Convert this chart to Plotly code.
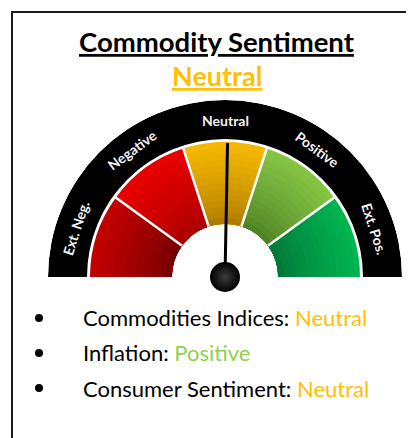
import math
import plotly.graph_objects as go

# ---------------- data ----------------
title_text = "Commodity Sentiment"
overall_status = "Neutral"
zone_labels = ["Ext. Neg.", "Negative", "Neutral", "Positive", "Ext. Pos."]
zone_outer_colors = ["#c20000", "#e80000", "#f4b800", "#84c443", "#00b450"]
zone_inner_colors = ["#760000", "#aa0000", "#b07c00", "#4f8326", "#00783a"]
sentiment_score = 2.53          # position of needle on the 0..5 zone scale
indicator_names = ["Commodities Indices", "Inflation", "Consumer Sentiment"]
indicator_status = ["Neutral", "Positive", "Neutral"]
status_colors = {"Ext. Neg.": "#C00000", "Negative": "#FF0000", "Neutral": "#FFC000",
                 "Positive": "#92D050", "Ext. Pos.": "#00B050"}

# ---------------- geometry / style ----------------
W, H = 414, 438          # browser window
OFF = 8                  # default page (body) margin
FW, FH = W - OFF, H - OFF  # figure size so it ends at the window edge
CX, CY = 225, 277
R_OUT, R_RING_IN, R_ZONE, R_HOLE, R_LABEL = 177, 138, 135, 53, 157
KNOB_R = 15
FONT = "Lato"

n = len(zone_labels)
span = 180.0 / n
thetas = [180 - span * (i + 0.5) for i in range(n)]


def mix(c1, c2, t):
    a = [int(c1[i:i + 2], 16) for i in (1, 3, 5)]
    b = [int(c2[i:i + 2], 16) for i in (1, 3, 5)]
    return "rgb(%d,%d,%d)" % tuple(round(a[k] + (b[k] - a[k]) * t) for k in range(3))


fig = go.Figure()

# black outer ring
fig.add_trace(go.Barpolar(theta=[90], r=[R_OUT - R_RING_IN], base=[R_RING_IN], width=[180],
                          marker=dict(color="#000000", line=dict(width=0)),
                          hoverinfo="skip", showlegend=False, subplot="polar"))

# coloured zones, shaded from dark (inner) to bright (outer)
bands = 14
for k in range(bands):
    top = R_ZONE - k * (R_ZONE - R_HOLE) / bands
    t = 1 - k / (bands - 1)
    cols = [mix(zone_inner_colors[i], zone_outer_colors[i], t ** 0.8) for i in range(n)]
    fig.add_trace(go.Barpolar(theta=thetas, r=[top - R_HOLE] * n, base=[R_HOLE] * n,
                              width=[span] * n,
                              marker=dict(color=cols, line=dict(width=0)),
                              hoverinfo="skip", showlegend=False, subplot="polar"))

# white separators between zones
for i in range(1, n):
    fig.add_trace(go.Scatterpolar(theta=[180 - span * i] * 2, r=[R_HOLE, R_ZONE + 1],
                                  mode="lines", line=dict(color="white", width=2.5),
                                  hoverinfo="skip", showlegend=False, subplot="polar"))

# knob
fig.add_trace(go.Scatter(x=[CX], y=[CY], mode="markers",
                         marker=dict(size=2 * KNOB_R, color="#000000",
                                     gradient=dict(type="radial", color="#3c3c3c"),
                                     line=dict(width=0)),
                         hoverinfo="skip", showlegend=False))

# bullets
bullet_y = [318, 353, 388]
fig.add_trace(go.Scatter(x=[39] * len(indicator_names), y=bullet_y[:len(indicator_names)],
                         mode="markers", marker=dict(size=8, color="#000000"),
                         hoverinfo="skip", showlegend=False))

# needle
ang = math.radians(180 - span * sentiment_score)
fig.add_shape(type="line", xref="x", yref="y", layer="above",
              x0=CX + (KNOB_R - 2) * math.cos(ang), y0=CY - (KNOB_R - 2) * math.sin(ang),
              x1=CX + (R_ZONE - 1) * math.cos(ang), y1=CY - (R_ZONE - 1) * math.sin(ang),
              line=dict(color="#000000", width=3))

# frame
fig.add_shape(type="line", xref="x", yref="y", x0=12, x1=W + 10, y0=12, y1=12,
              line=dict(color="#1a1a1a", width=2))
fig.add_shape(type="line", xref="x", yref="y", x0=12, x1=12, y0=11, y1=H + 10,
              line=dict(color="#1a1a1a", width=2))

# zone labels in the ring
for lab, th in zip(zone_labels, thetas):
    a = math.radians(th)
    fig.add_annotation(x=CX + R_LABEL * math.cos(a), y=CY - R_LABEL * math.sin(a),
                       xref="x", yref="y", text="<b>%s</b>" % lab, showarrow=False,
                       textangle=90 - th, xanchor="center", yanchor="middle",
                       font=dict(family=FONT, size=14, color="#f2f2f2"))

# titles
fig.add_annotation(x=216.5, y=41, xref="x", yref="y", text="<b>%s</b>" % title_text,
                   showarrow=False, xanchor="center", yanchor="middle",
                   font=dict(family=FONT, size=27.5, color="#000000", lineposition="under"))
fig.add_annotation(x=216.5, y=75, xref="x", yref="y", text="<b>%s</b>" % overall_status,
                   showarrow=False, xanchor="center", yanchor="middle",
                   font=dict(family=FONT, size=27, color=status_colors[overall_status],
                             lineposition="under"))

# indicator list
for name, st, yy in zip(indicator_names, indicator_status, [317.5, 352.5, 388.5]):
    fig.add_annotation(x=81, y=yy, xref="x", yref="y",
                       text="%s: <span style='color:%s'>%s</span>" % (name, status_colors[st], st),
                       showarrow=False, xanchor="left", yanchor="middle",
                       font=dict(family=FONT, size=22, color="#000000"))

fig.update_layout(
    width=FW, height=FH, margin=dict(l=0, r=0, t=0, b=0),
    paper_bgcolor="white", plot_bgcolor="white",
    xaxis=dict(range=[OFF, W], visible=False, fixedrange=True, domain=[0, 1]),
    yaxis=dict(range=[H, OFF], visible=False, fixedrange=True, domain=[0, 1]),
    polar=dict(domain=dict(x=[(CX - R_OUT - OFF) / FW, (CX + R_OUT - OFF) / FW],
                           y=[1 - (CY - OFF) / FH, 1 - (CY - R_OUT - OFF) / FH]),
               sector=[0, 180], hole=R_HOLE / R_OUT, bgcolor="rgba(0,0,0,0)",
               radialaxis=dict(range=[R_HOLE, R_OUT], visible=False, showgrid=False),
               angularaxis=dict(visible=False, showgrid=False, showline=False)),
    barmode="overlay",
    showlegend=False,
)

fig.write_html("out.html")
